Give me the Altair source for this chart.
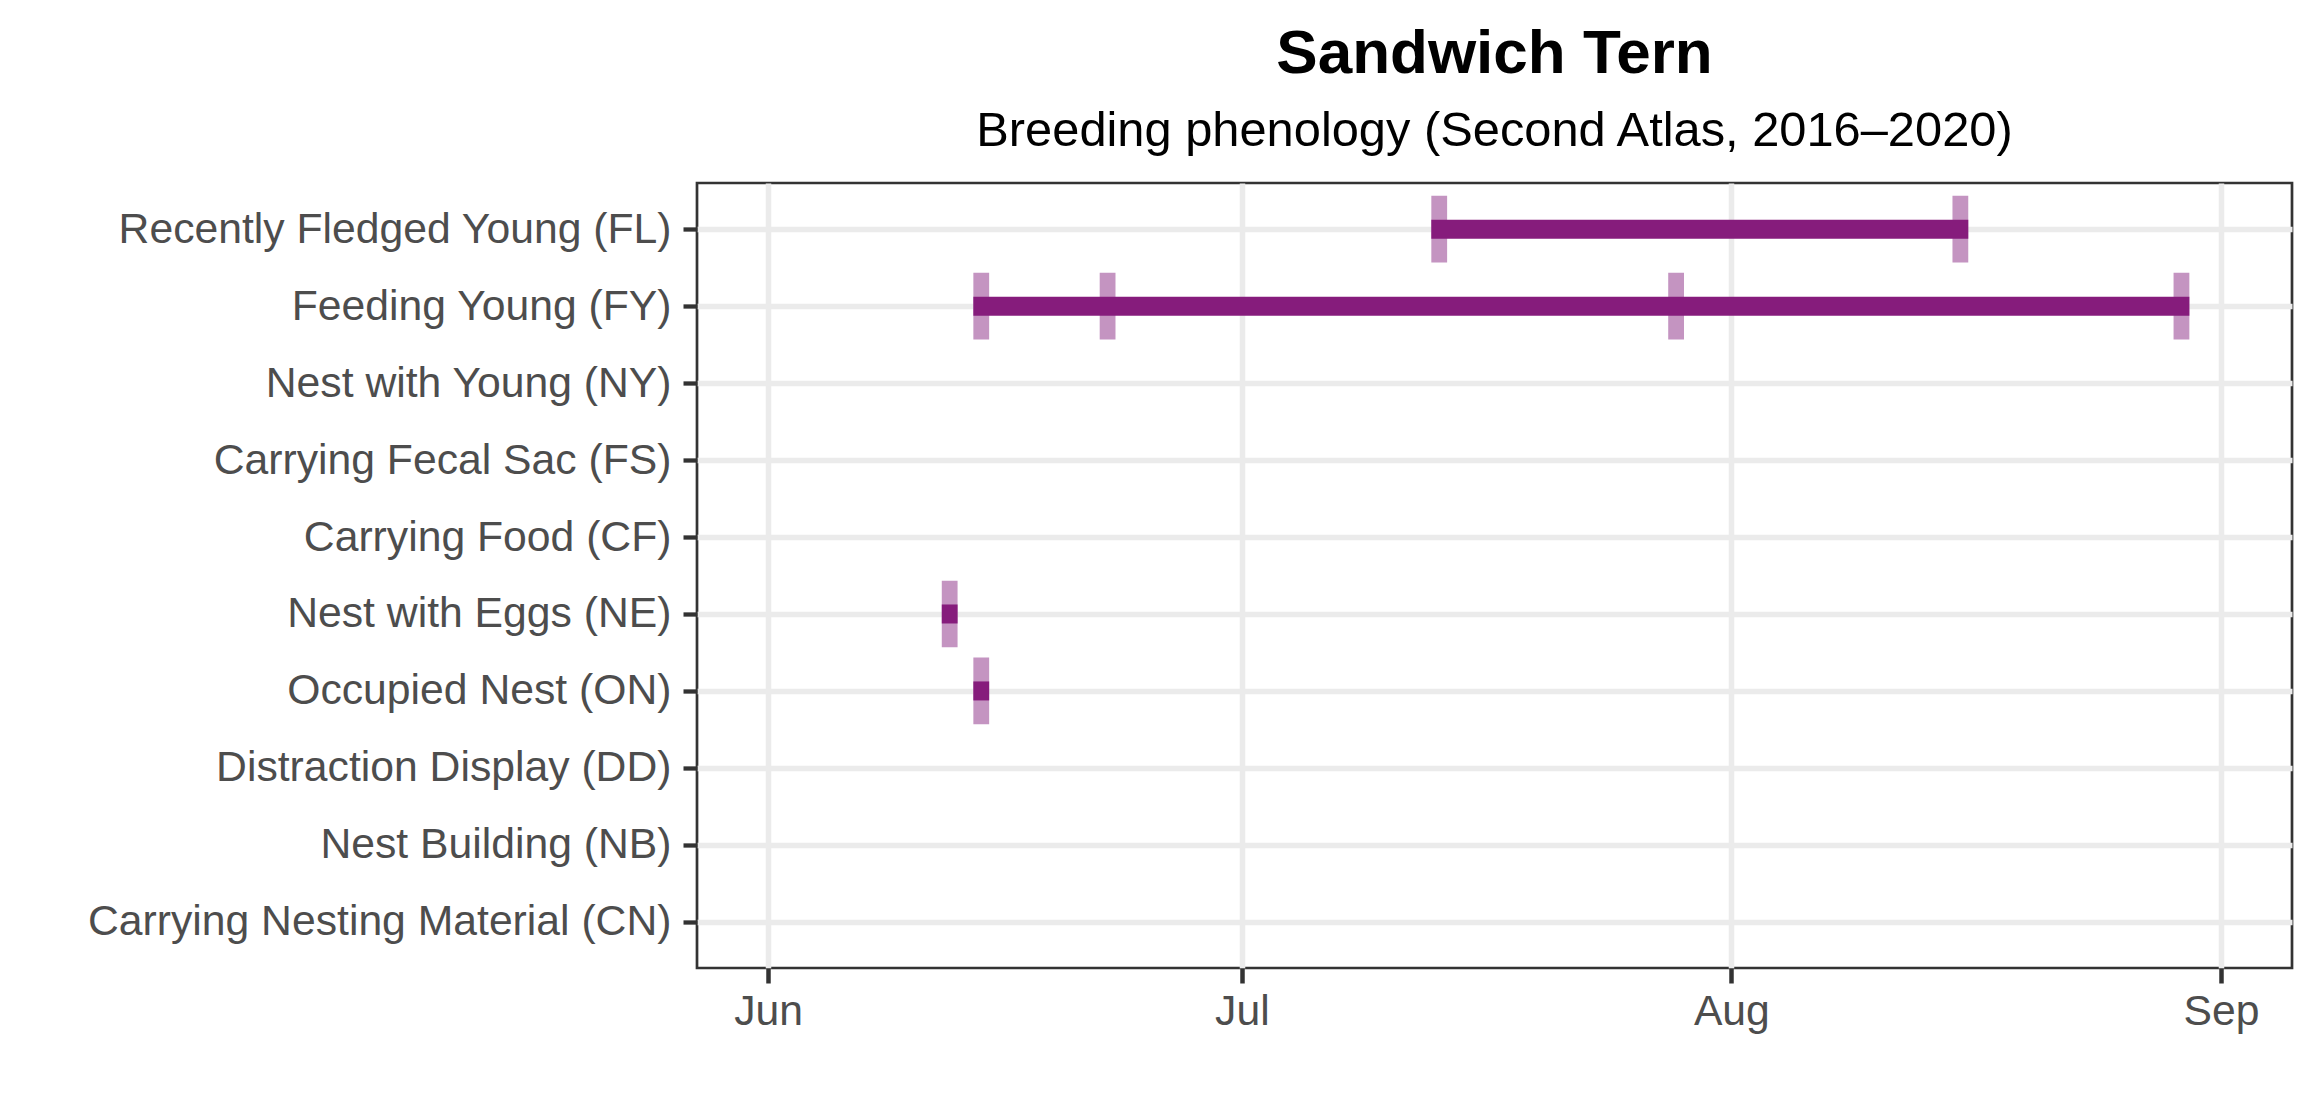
import altair as alt
import pandas as pd

# ---- data ----
behaviors = [
    "Recently Fledged Young (FL)",
    "Feeding Young (FY)",
    "Nest with Young (NY)",
    "Carrying Fecal Sac (FS)",
    "Carrying Food (CF)",
    "Nest with Eggs (NE)",
    "Occupied Nest (ON)",
    "Distraction Display (DD)",
    "Nest Building (NB)",
    "Carrying Nesting Material (CN)",
]
obs_behavior = [
    "Recently Fledged Young (FL)", "Recently Fledged Young (FL)",
    "Feeding Young (FY)", "Feeding Young (FY)", "Feeding Young (FY)", "Feeding Young (FY)",
    "Nest with Eggs (NE)",
    "Occupied Nest (ON)",
]
obs_date = [
    "2021-07-13", "2021-08-15",
    "2021-06-14", "2021-06-22", "2021-07-28", "2021-08-29",
    "2021-06-12",
    "2021-06-14",
]
month_labels = ["Jun", "Jul", "Aug", "Sep"]
month_starts = [(6, 1), (7, 1), (8, 1), (9, 1)]

df = pd.DataFrame({"behavior": obs_behavior, "date": obs_date})
df["start"] = pd.to_datetime(df["date"])
df["end"] = df["start"] + pd.Timedelta(days=1)
df["start"] = df["start"].dt.strftime("%Y-%m-%dT%H:%M:%SZ")
df["end"] = df["end"].dt.strftime("%Y-%m-%dT%H:%M:%SZ")

DARK = "#861C7C"
LIGHT = "#C494C1"
FONT = "Liberation Sans"

xscale = alt.Scale(
    type="utc",
    domain=[alt.DateTime(year=2021, month=5, date=27, hours=12, utc=True),
            alt.DateTime(year=2021, month=9, date=5, hours=12, utc=True)],
)
xaxis = alt.Axis(
    title=None,
    values=[alt.DateTime(year=2021, month=m, date=d, utc=True) for m, d in month_starts],
    labelExpr="utcFormat(datum.value, '%b')",
    labelFontSize=42.7, labelColor="#4D4D4D", labelFont=FONT, labelPadding=7,
    tickSize=15, tickWidth=4.5, tickColor="#333333",
    grid=True, gridColor="#EBEBEB", gridWidth=5.5,
    domain=False,
)
yscale = alt.Scale(type="point", domain=behaviors, padding=0.6)
yaxis = alt.Axis(
    title=None,
    labelFontSize=42.7, labelColor="#4D4D4D", labelFont=FONT, labelPadding=12,
    tickSize=14, tickWidth=4.3, tickColor="#333333",
    grid=True, gridColor="#EBEBEB", gridWidth=5.5,
    domain=False, labelLimit=1000,
)

base = alt.Chart(df)

light = base.mark_bar(height=66.7, color=LIGHT).encode(
    x=alt.X("start:T", scale=xscale, axis=xaxis),
    x2="end:T",
    y=alt.Y("behavior:N", scale=yscale, axis=yaxis, sort=behaviors),
)
dark = base.mark_bar(height=19, color=DARK).encode(
    x=alt.X("min(start):T", scale=xscale, axis=xaxis),
    x2="max(end):T",
    y=alt.Y("behavior:N", scale=yscale, axis=yaxis, sort=behaviors),
)

chart = alt.layer(light, dark).properties(
    width=1595,
    height=785,
    title=alt.TitleParams(
        text="Sandwich Tern",
        subtitle="Breeding phenology (Second Atlas, 2016–2020)",
        anchor="middle",
        font=FONT, fontSize=62, fontWeight="bold", color="#000000",
        subtitleFont=FONT, subtitleFontSize=48.8, subtitleColor="#000000",
        subtitlePadding=21, offset=26,
    ),
    autosize=alt.AutoSizeParams(type="none"),
    padding={"left": 689, "top": 175, "right": 20, "bottom": 120},
).configure(
    background="white",
    view=alt.ViewConfig(stroke="#333333", strokeWidth=2.7, fill="white"),
)

chart.save("out.html", embed_options={"renderer": "svg", "actions": False})
